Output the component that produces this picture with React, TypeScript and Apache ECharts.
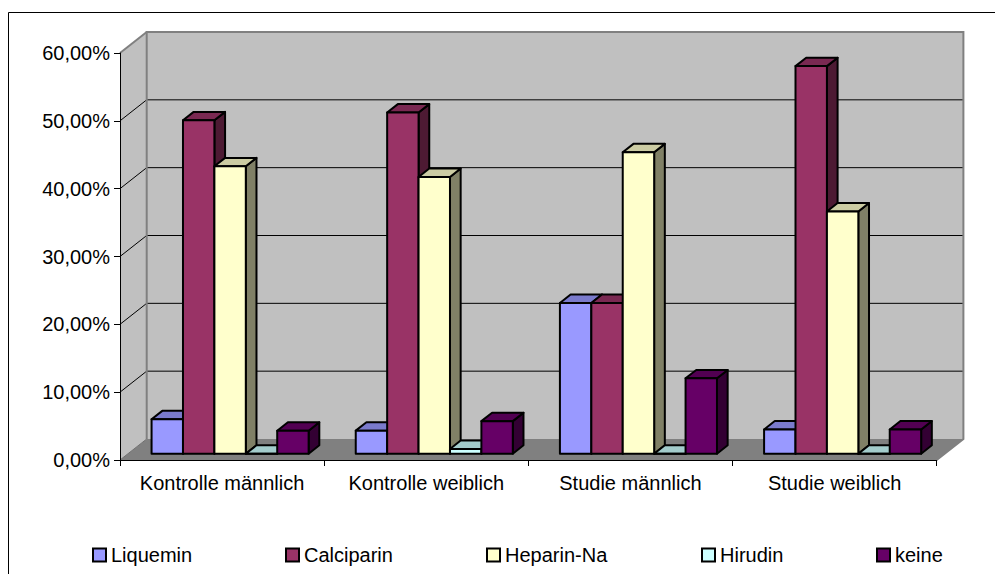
import React, { useEffect, useRef } from "react";
import * as echarts from "echarts";

// Kategorien und Anteile je Antikoagulans (in %)
const categories = ["Kontrolle männlich", "Kontrolle weiblich", "Studie männlich", "Studie weiblich"];
const seriesNames = ["Liquemin", "Calciparin", "Heparin-Na", "Hirudin", "keine"];
const liquemin = [5.08, 3.4, 22.22, 3.57];
const calciparin = [49.15, 50.3, 22.22, 57.14];
const heparinNa = [42.37, 40.8, 44.44, 35.71];
const hirudin = [0, 0.7, 0, 0];
const keine = [3.39, 4.8, 11.11, 3.57];
const gridValues = [10, 20, 30, 40, 50];

const seriesValues = [liquemin, calciparin, heparinNa, hirudin, keine];

// front, top and side shading of each 3D column
const frontColors = ["#9999FF", "#993366", "#FFFFCC", "#CCFFFF", "#660066"];
const topColors = ["#7a7acc", "#7a2952", "#ccccA3", "#a3cccc", "#520052"];
const sideColors = ["#4d4d80", "#4d1a33", "#808066", "#668080", "#330033"];
const legendLefts = [92, 285, 486, 701, 876];

// depth vector of the 3D plot box
const DX = 26.7;
const DY = -21;
const BAR_FRONT = 0.3;
const BAR_DEPTH = 0.4;
const SLOTS = 6.5;

const FONT = "'Liberation Sans', Arial, sans-serif";

function fmt(v: number) {
  return v.toFixed(2).replace(".", ",") + "%";
}

export default function App() {
  const ref = useRef<HTMLDivElement>(null);

  useEffect(() => {
    if (!ref.current) return;
    const chart = echarts.init(ref.current, null, { renderer: "svg" });

    const wallSeries: any = {
      type: "custom",
      name: "wand",
      z: 1,
      silent: true,
      data: [[0, 0]],
      encode: { x: 0, y: 1 },
      renderItem: (params: any, api: any) => {
        const cs = params.coordSys;
        const x0 = cs.x;
        const y0 = cs.y;
        const w = cs.width;
        const h = cs.height;
        const children: any[] = [
          {
            type: "rect",
            shape: { x: x0 + DX, y: y0 + DY, width: w, height: h },
            style: { fill: "#C0C0C0" },
          },
          {
            type: "polygon",
            shape: { points: [[x0, y0], [x0 + DX, y0 + DY], [x0 + DX, y0 + h + DY], [x0, y0 + h]] },
            style: { fill: "#C0C0C0" },
          },
          {
            type: "polygon",
            shape: { points: [[x0, y0 + h], [x0 + DX, y0 + h + DY], [x0 + w + DX, y0 + h + DY], [x0 + w, y0 + h]] },
            style: { fill: "#808080" },
          },
        ];
        gridValues.forEach((v) => {
          const y = api.coord([0, v])[1];
          children.push({
            type: "line",
            shape: { x1: x0 + DX, y1: y + DY, x2: x0 + w + DX, y2: y + DY },
            style: { stroke: "#000", lineWidth: 1 },
          });
          children.push({
            type: "line",
            shape: { x1: x0, y1: y, x2: x0 + DX, y2: y + DY },
            style: { stroke: "#000", lineWidth: 1 },
          });
        });
        children.push({
          type: "polyline",
          shape: {
            points: [
              [x0 + DX, y0 + h + DY],
              [x0 + DX, y0 + DY],
              [x0 + w + DX, y0 + DY],
              [x0 + w + DX, y0 + h + DY],
              [x0 + w, y0 + h],
            ],
          },
          style: { stroke: "#808080", lineWidth: 2, fill: null },
        });
        children.push({
          type: "line",
          shape: { x1: x0, y1: y0, x2: x0 + DX, y2: y0 + DY },
          style: { stroke: "#808080", lineWidth: 2 },
        });
        children.push({
          type: "line",
          shape: { x1: x0, y1: y0 + h, x2: x0 + DX, y2: y0 + h + DY },
          style: { stroke: "#707070", lineWidth: 1 },
        });
        return { type: "group", children };
      },
    };

    const barSeries = seriesNames.map((name, s) => ({
      type: "custom",
      name,
      z: 2 + s,
      itemStyle: { color: frontColors[s] },
      data: seriesValues[s].map((v, i) => [i, v]),
      encode: { x: 0, y: 1 },
      renderItem: (params: any, api: any) => {
        const cat = api.value(0);
        const v = api.value(1);
        const [cx, yTop] = api.coord([cat, v]);
        const yBase = api.coord([cat, 0])[1];
        const band = api.size([1, 0])[0];
        const bw = band / SLOTS;
        const x = cx - band / 2 + bw * 0.75 + s * bw + DX * BAR_FRONT;
        const top = yTop + DY * BAR_FRONT;
        const base = yBase + DY * BAR_FRONT;
        const ddx = DX * BAR_DEPTH;
        const ddy = DY * BAR_DEPTH;
        const edge = { stroke: "#000", lineWidth: 2, lineJoin: "round" };
        return {
          type: "group",
          children: [
            {
              type: "polygon",
              shape: { points: [[x + bw, top], [x + bw + ddx, top + ddy], [x + bw + ddx, base + ddy], [x + bw, base]] },
              style: { fill: sideColors[s], ...edge },
            },
            {
              type: "polygon",
              shape: { points: [[x, top], [x + ddx, top + ddy], [x + bw + ddx, top + ddy], [x + bw, top]] },
              style: { fill: topColors[s], ...edge },
            },
            {
              type: "rect",
              shape: { x, y: top, width: bw, height: base - top },
              style: { fill: frontColors[s], ...edge },
            },
          ],
        };
      },
    }));

    const option: any = {
      animation: false,
      textStyle: { fontFamily: FONT },
      grid: { left: 120, top: 53, width: 816.7, height: 407, containLabel: false },
      xAxis: {
        type: "category",
        data: categories,
        boundaryGap: true,
        z: 10,
        axisLine: { show: true, lineStyle: { color: "#000", width: 1 } },
        axisTick: { show: true, length: 6, lineStyle: { color: "#000" } },
        axisLabel: { color: "#000", fontSize: 20, fontFamily: FONT, margin: 13, interval: 0 },
        splitLine: { show: false },
      },
      yAxis: {
        type: "value",
        min: 0,
        max: 60,
        interval: 10,
        z: 10,
        axisLine: { show: true, lineStyle: { color: "#000", width: 1 } },
        axisTick: { show: true, length: 6, lineStyle: { color: "#000" } },
        axisLabel: { color: "#000", fontSize: 20, fontFamily: FONT, margin: 10, formatter: (v: number) => fmt(v) },
        splitLine: { show: false },
      },
      legend: seriesNames.map((name, s) => ({
        data: [{ name, icon: "rect" }],
        left: legendLefts[s],
        top: 545,
        padding: 0,
        itemWidth: 13,
        itemHeight: 13,
        itemGap: 0,
        selectedMode: false,
        itemStyle: { borderColor: "#000", borderWidth: 2 },
        textStyle: { color: "#000", fontSize: 20, fontFamily: FONT },
      })),
      graphic: [
        {
          type: "rect",
          shape: { x: 8.5, y: 12.5, width: 1000, height: 600 },
          style: { fill: null, stroke: "#000", lineWidth: 1 },
          silent: true,
          z: 100,
        },
      ],
      series: [wallSeries, ...barSeries],
    };

    chart.setOption(option);
    return () => chart.dispose();
  }, []);

  return (
    <div
      ref={ref}
      style={{ position: "absolute", left: 0, top: 0, width: 995, height: 574, background: "#fff" }}
    />
  );
}
